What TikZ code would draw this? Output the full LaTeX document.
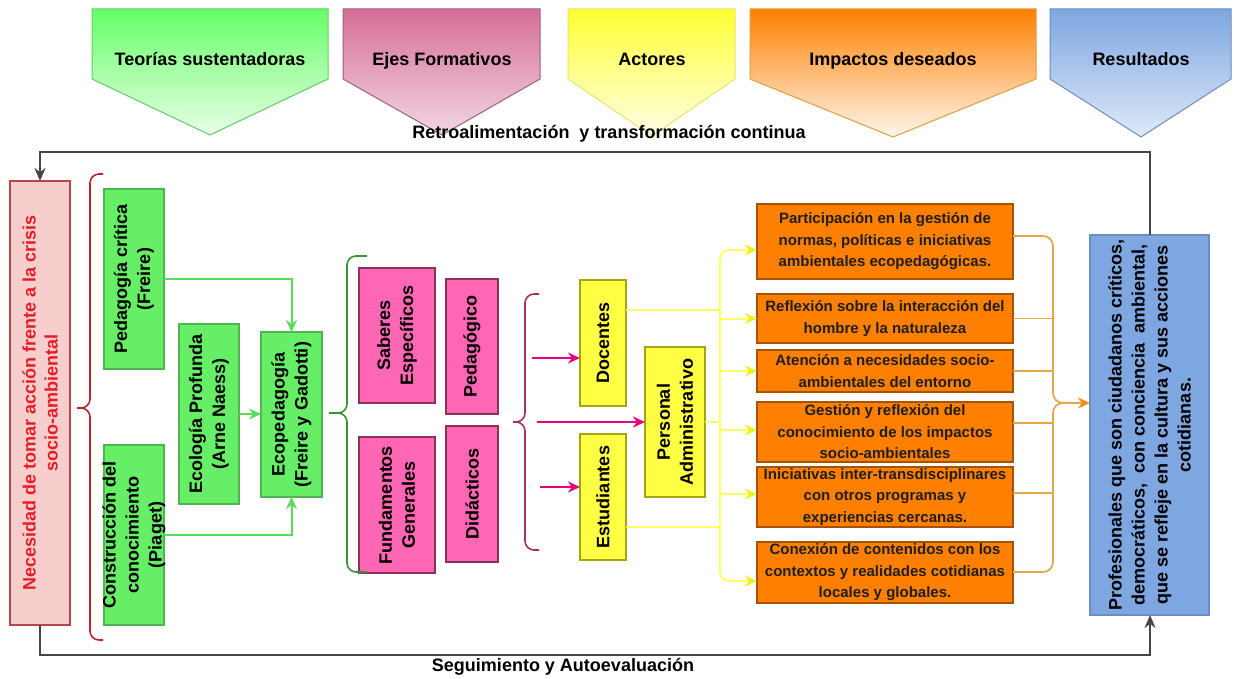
\documentclass[tikz,border=0pt]{standalone}
\usepackage{fontspec}
\setmainfont{Liberation Sans}
\usetikzlibrary{arrows.meta,calc}
% box colours
\definecolor{gfill}{RGB}{102,238,102}
\definecolor{gline}{RGB}{80,180,80}
\definecolor{rfill}{RGB}{248,206,204}
\definecolor{rline}{RGB}{184,70,70}
\definecolor{rtxt}{RGB}{228,30,40}
\definecolor{pfill}{RGB}{255,102,179}
\definecolor{pline}{RGB}{140,50,90}
\definecolor{yfill}{RGB}{255,255,68}
\definecolor{yline}{RGB}{165,165,20}
\definecolor{ofill}{RGB}{255,128,0}
\definecolor{oline}{RGB}{166,83,0}
\definecolor{bfill}{RGB}{126,166,224}
\definecolor{bline}{RGB}{108,142,191}
% connectors
\definecolor{garr}{RGB}{90,220,90}
\definecolor{marr}{RGB}{230,0,126}
\definecolor{ycon}{RGB}{255,255,100}
\definecolor{yarr}{RGB}{240,240,30}
\definecolor{ocon}{RGB}{230,165,70}
\definecolor{oarr}{RGB}{255,140,26}
\definecolor{rbr}{RGB}{178,40,50}
\definecolor{gbr}{RGB}{50,150,50}
\definecolor{mbr}{RGB}{160,50,110}
\definecolor{loopc}{RGB}{70,70,70}
% header colours
\definecolor{hgT}{RGB}{102,255,102}\definecolor{hgB}{RGB}{232,255,232}\definecolor{hgL}{RGB}{102,204,102}
\definecolor{hpT}{RGB}{214,110,150}\definecolor{hpB}{RGB}{242,214,228}\definecolor{hpL}{RGB}{150,100,130}
\definecolor{hyT}{RGB}{255,255,51}\definecolor{hyB}{RGB}{255,255,232}\definecolor{hyL}{RGB}{230,230,100}
\definecolor{hoT}{RGB}{255,128,0}\definecolor{hoB}{RGB}{255,246,236}\definecolor{hoL}{RGB}{220,160,60}
\definecolor{hbT}{RGB}{126,166,224}\definecolor{hbB}{RGB}{222,233,248}\definecolor{hbL}{RGB}{108,142,191}

\begin{document}
\begin{tikzpicture}[x=1pt,y=-1pt,
  base/.style={inner sep=0pt, outer sep=0pt, line width=1.2pt},
  gbox/.style={base, draw=gline, fill=gfill},
  rbox/.style={base, draw=rline, fill=rfill},
  pbox/.style={base, draw=pline, fill=pfill},
  ybox/.style={base, draw=yline, fill=yfill},
  obox/.style={base, draw=oline, fill=ofill, minimum width=256, align=center,
     font=\bfseries\fontsize{15}{21.5}\selectfont, text=black!88},
  bbox/.style={base, draw=bline, fill=bfill},
  vtxt/.style={rotate=90, align=center, inner sep=0pt, font=\bfseries\fontsize{18}{23}\selectfont},
  htxt/.style={inner sep=0pt, anchor=base, font=\bfseries\fontsize{18}{22}\selectfont},
  hdr/.style={draw=#1L, line width=1pt, top color=#1T, bottom color=#1B},
  loopline/.style={draw=loopc, line width=1.6pt},
  garrow/.style={draw=garr, line width=2pt, -{Stealth[length=12pt,width=11pt]}},
  marrow/.style={draw=marr, line width=2pt, -{Stealth[length=12pt,width=11pt]}},
  ylin/.style={draw=ycon, line width=2pt},
  yarrow/.style={ylin, -{Stealth[length=12pt,width=11pt,color=yarr]}},
  olin/.style={draw=ocon, line width=1.7pt},
  brace/.style={line width=1.6pt, rounded corners=9pt},
]
\useasboundingbox (0,0) rectangle (1234,679);
\fill[white] (0,0) rectangle (1234,679);

% ---------- headers ----------
\path[hdr=hg] (92,9) -- (328,9) -- (328,79) -- (210,135) -- (92,79) -- cycle;
\path[hdr=hp] (343,9) -- (540,9) -- (540,79) -- (442,135) -- (343,79) -- cycle;
\path[hdr=hy] (568,9) -- (735,9) -- (735,79) -- (652,136) -- (568,79) -- cycle;
\path[hdr=ho] (750,9) -- (1036,9) -- (1036,79) -- (893,137) -- (750,79) -- cycle;
\path[hdr=hb] (1050,9) -- (1231,9) -- (1231,79) -- (1141,137) -- (1050,79) -- cycle;
\node[htxt] (h1) at (210,66) {Teorías sustentadoras};
\node[htxt] (h2) at (442,66) {Ejes Formativos};
\node[htxt] (h3) at (652,66) {Actores};
\node[htxt] (h4) at (893,66) {Impactos deseados};
\node[htxt] (h5) at (1141,66) {Resultados};

\node[htxt] (retro) at (609,139) {Retroalimentación\ \ y transformación continua};
\node[htxt] (seg) at (563,671) {Seguimiento y Autoevaluación};

% ---------- boxes ----------
\node[rbox, minimum width=60, minimum height=444] (need) at (40,403) {};
\node[vtxt, text=rtxt, font=\bfseries\fontsize{18}{22}\selectfont] (needt) at (need.center) {Necesidad de tomar acción frente a la crisis\\socio-ambiental};

\node[gbox, minimum width=60, minimum height=180] (ped) at (134,279) {};
\node[vtxt] (pedt) at (ped.center) {Pedagogía crítica\\(Freire)};
\node[gbox, minimum width=60, minimum height=180] (cons) at (134,535) {};
\node[vtxt] (const) at (cons.center) {Construcción del\\conocimiento\\(Piaget)};
\node[gbox, minimum width=60, minimum height=180] (eco) at (209,414) {};
\node[vtxt] (ecot) at (eco.center) {Ecología Profunda\\(Arne Naess)};
\node[gbox, minimum width=61, minimum height=165] (ecoped) at (291.5,414.5) {};
\node[vtxt] (ecopedt) at (ecoped.center) {Ecopedagogía\\(Freire y Gadotti)};

\node[pbox, minimum width=76, minimum height=135] (sab) at (397,335.5) {};
\node[vtxt] (sabt) at (sab.center) {Saberes\\Específicos};
\node[pbox, minimum width=52, minimum height=135] (pedg) at (472,346.5) {};
\node[vtxt] (pedgt) at (pedg.center) {Pedagógico};
\node[pbox, minimum width=76, minimum height=136] (fund) at (397,505) {};
\node[vtxt] (fundt) at (fund.center) {Fundamentos\\Generales};
\node[pbox, minimum width=52, minimum height=136] (did) at (472,494) {};
\node[vtxt] (didt) at (did.center) {Didácticos};

\node[ybox, minimum width=46, minimum height=126] (doc) at (603,343) {};
\node[vtxt] (doct) at (doc.center) {Docentes};
\node[ybox, minimum width=46, minimum height=126] (est) at (603,497) {};
\node[vtxt] (estt) at (est.center) {Estudiantes};
\node[ybox, minimum width=60, minimum height=150] (pers) at (675,422) {};
\node[vtxt] (perst) at (pers.center) {Personal\\Administrativo};

\node[obox, minimum height=75] (o1) at (885,241.5) {Participación en la gestión de\\normas, políticas e iniciativas\\ambientales ecopedagógicas.};
\node[obox, minimum height=49] (o2) at (885,318.5) {Reflexión sobre la interacción del\\hombre y la naturaleza};
\node[obox, minimum height=42] (o3) at (885,371) {Atención a necesidades socio-\\ambientales del entorno};
\node[obox, minimum height=60] (o4) at (885,432) {Gestión y reflexión del\\conocimiento de los impactos\\socio-ambientales};
\node[obox, minimum height=60] (o5) at (885,497) {Iniciativas inter-transdisciplinares\\con otros programas y\\experiencias cercanas.};
\node[obox, minimum height=61] (o6) at (885,572.5) {Conexión de contenidos con los\\contextos y realidades cotidianas\\locales y globales.};

\node[bbox, minimum width=119, minimum height=380] (res) at (1149.5,425) {};
\node[vtxt] (rest) at (res.center) {Profesionales que son ciudadanos críticos,\\democráticos,\ \ con conciencia\ \ ambiental,\\que se refleje en la cultura y sus acciones\\cotidianas.};

% ---------- feedback loop ----------
\coordinate (tl) at (40,152);
\coordinate (tr) at (1150,152);
\coordinate (bl) at (40,655);
\coordinate (br) at (1150,655);
\draw[loopline, -{Stealth[length=13pt,width=11pt]}] (res.north -| tr) -- (tr) -- (tl) -- (need.north);
\draw[loopline, -{Stealth[length=13pt,width=11pt]}] (need.south) -- (bl) -- (br) -- (res.south -| br);

% ---------- braces ----------
\draw[brace, draw=rbr] (103,174) -- (90,174) -- (90,408) -- (77,408);
\draw[brace, draw=rbr] (103,640) -- (90,640) -- (90,408) -- (77,408);
\draw[brace, draw=gbr] (367,256) -- (347,256) -- (347,413) -- (329,413);
\draw[brace, draw=gbr] (367,572) -- (347,572) -- (347,413) -- (329,413);
\draw[brace, draw=mbr] (539,294) -- (525,294) -- (525,422) -- (513,422);
\draw[brace, draw=mbr] (539,550) -- (525,550) -- (525,422) -- (513,422);

% ---------- green connectors ----------
\draw[garrow] (ped.east) -- (ped.east -| ecoped.north) -- (ecoped.north);
\draw[garrow] (cons.east) -- (cons.east -| ecoped.south) -- (ecoped.south);
\draw[garrow] (eco.east) -- (eco.east -| ecoped.west);

% ---------- magenta connectors ----------
\coordinate (m1) at (532,358);
\coordinate (m2) at (537,422);
\coordinate (m3) at (540,487);
\draw[marrow] (m1) -- (m1 -| doc.west);
\draw[marrow] (m2) -- (pers.west);
\draw[marrow] (m3) -- (m3 -| est.west);

% ---------- yellow connectors ----------
\coordinate (ybus) at (720,0);
\coordinate (ytop) at (720,250);
\coordinate (ybot) at (720,581);
\draw[ylin, rounded corners=9pt, {Stealth[length=12pt,width=11pt,color=yarr]}-{Stealth[length=12pt,width=11pt,color=yarr]}]
   (o1.west |- ytop) -- (ytop) -- (ybot) -- (o6.west |- ybot);
\draw[yarrow] (ybus |- o2.west) -- (o2.west);
\draw[yarrow] (ybus |- o3.west) -- (o3.west);
\draw[yarrow] ([yshift=2pt]ybus |- o4.west) -- ([yshift=2pt]o4.west);
\draw[yarrow] ([yshift=3pt]ybus |- o5.west) -- ([yshift=3pt]o5.west);
\draw[ylin] ([yshift=33pt]doc.east) coordinate (d1) -- (d1 -| ybus);
\draw[ylin] (pers.east) -- (pers.east -| ybus);
\draw[ylin] ([yshift=-30pt]est.east) coordinate (e1) -- (e1 -| ybus);

% ---------- orange connectors ----------
\coordinate (obus) at (1053,0);
\coordinate (oT) at (1053,236);
\coordinate (oB) at (1053,572);
\coordinate (oM) at (1053,403);
\draw[olin, rounded corners=10pt, -{Stealth[length=12pt,width=11pt,color=oarr]}]
   (o1.east |- oT) -- (oT) -- (oM) -- (res.west |- oM);
\draw[olin, rounded corners=10pt] (o6.east |- oB) -- (oB) -- (oM) -- ++(14,0);
\draw[olin] (o2.east) -- (obus |- o2.east);
\draw[olin] (o3.east) -- (obus |- o3.east);
\draw[olin] ([yshift=9pt]o4.east) coordinate (o4r) -- (o4r -| obus);
\draw[olin] ([yshift=4pt]o5.east) coordinate (o5r) -- (o5r -| obus);
\end{tikzpicture}
\end{document}
